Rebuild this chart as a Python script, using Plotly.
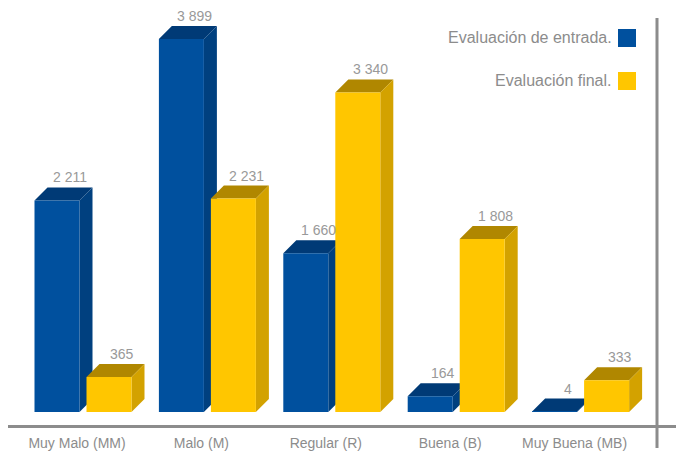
import plotly.graph_objects as go

# Data
categories = ["Muy Malo (MM)", "Malo (M)", "Regular (R)", "Buena (B)", "Muy Buena (MB)"]
entrada = [2211, 3899, 1660, 164, 4]
final = [365, 2231, 3340, 1808, 333]
series_names = ["Evaluación de entrada.", "Evaluación final."]

# Figure geometry (pixels)
W, H = 676, 456
M_L, M_R, M_T, M_B = 8, 0, 10, 31
PLOT_W = W - M_L - M_R
PLOT_H = H - M_T - M_B

# Axis scales: value units per pixel and category units per pixel
PX_PER_VAL = 373 / 3899
PX_PER_CAT = 124.4
X0_PX = 83.0          # pixel of the first category centre
ZERO_PX = 412.0       # pixel row of value zero

x_min = (M_L - X0_PX) / PX_PER_CAT
x_max = (W - M_R - X0_PX) / PX_PER_CAT
y_min = -(H - M_B - ZERO_PX) / PX_PER_VAL
y_max = (ZERO_PX - M_T) / PX_PER_VAL

BAR_W = 45 / PX_PER_CAT
BAR_OFF = 26 / PX_PER_CAT
DEPTH_X = 13 / PX_PER_CAT
DEPTH_Y = 13 / PX_PER_VAL

FONT = "Arial, Liberation Sans, sans-serif"

styles = [
    dict(front="#00509E", top="#003A76", side="#00407F"),
    dict(front="#FFC600", top="#B08700", side="#D3A200"),
]


def paper_x(px):
    return (px - M_L) / PLOT_W


def paper_y(py):
    return (H - M_B - py) / PLOT_H


fig = go.Figure()
shapes = []
annotations = []

for s, (vals, name, st) in enumerate(zip([entrada, final], series_names, styles)):
    offset = -BAR_OFF if s == 0 else BAR_OFF
    xs = [i + offset for i in range(len(categories))]
    fig.add_trace(go.Bar(
        x=xs, y=vals, width=BAR_W, name=name,
        marker=dict(color=st["front"], line=dict(width=0)),
        showlegend=False, hoverinfo="y",
    ))
    for xc, v in zip(xs, vals):
        x0, x1 = xc - BAR_W / 2, xc + BAR_W / 2
        # top face
        shapes.append(dict(
            type="path", xref="x", yref="y", layer="below",
            path=f"M{x0},{v} L{x1},{v} L{x1 + DEPTH_X},{v + DEPTH_Y} L{x0 + DEPTH_X},{v + DEPTH_Y} Z",
            fillcolor=st["top"], line=dict(width=0),
        ))
        # side face
        shapes.append(dict(
            type="path", xref="x", yref="y", layer="below",
            path=f"M{x1},0 L{x1},{v} L{x1 + DEPTH_X},{v + DEPTH_Y} L{x1 + DEPTH_X},{DEPTH_Y} Z",
            fillcolor=st["side"], line=dict(width=0),
        ))
        annotations.append(dict(
            x=xc + DEPTH_X, y=v + DEPTH_Y, xref="x", yref="y",
            text=f"{v:,}".replace(",", " "), showarrow=False,
            yanchor="bottom", yshift=0,
            font=dict(family=FONT, size=14, color="#999999"),
        ))

# Right-hand frame line
shapes.append(dict(
    type="line", xref="paper", yref="paper",
    x0=paper_x(657), x1=paper_x(657), y0=paper_y(18), y1=paper_y(448),
    line=dict(color="#8C8C8C", width=3),
))

# Legend: text with the colour key to its right
for name, st, cy in zip(series_names, styles, [38, 81]):
    annotations.append(dict(
        x=paper_x(614), y=paper_y(cy), xref="paper", yref="paper",
        xanchor="right", yanchor="middle", showarrow=False, text=name,
        font=dict(family=FONT, size=16, color="#8C8C8C"),
    ))
    shapes.append(dict(
        type="rect", xref="paper", yref="paper",
        x0=paper_x(618), x1=paper_x(636), y0=paper_y(cy + 9), y1=paper_y(cy - 9),
        fillcolor=st["front"], line=dict(width=0),
    ))

fig.update_layout(
    width=W, height=H,
    margin=dict(l=M_L, r=M_R, t=M_T, b=M_B),
    paper_bgcolor="white", plot_bgcolor="white",
    barmode="overlay",
    shapes=shapes, annotations=annotations,
    xaxis=dict(
        range=[x_min, x_max], showgrid=False, zeroline=False,
        showline=True, linecolor="#8C8C8C", linewidth=3,
        tickmode="array",
        tickvals=[i - 6 / PX_PER_CAT for i in range(len(categories))],
        ticktext=categories, ticks="", ticklabelstandoff=3,
        tickfont=dict(family=FONT, size=14, color="#8C8C8C"),
    ),
    yaxis=dict(range=[y_min, y_max], visible=False, showgrid=False, zeroline=False),
)

fig.write_html("out.html")
